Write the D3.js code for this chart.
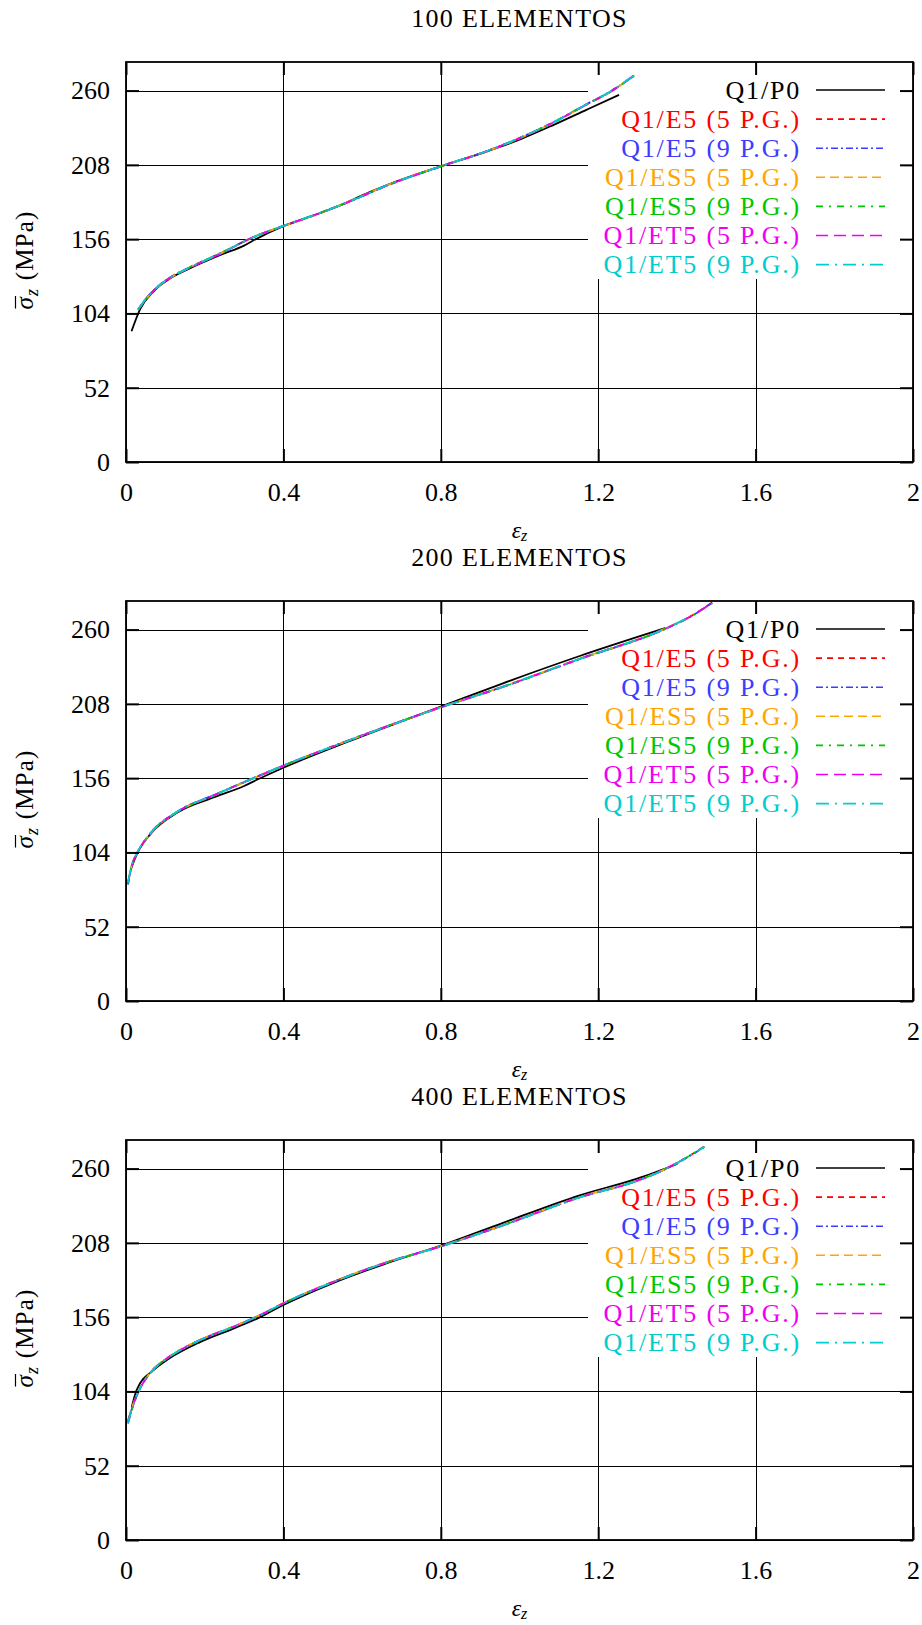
<!DOCTYPE html>
<html>
<head>
<meta charset="utf-8">
<script src="https://cdn.jsdelivr.net/npm/d3@7"></script>
<style>
    body { margin: 0; background: #fff; }
    svg text { font-family: "Liberation Serif", serif; fill: #000; }
</style>
</head>
<body>
<svg id="chart" width="922" height="1625"></svg>
<script>
"use strict";

let panelTitles = ["100 ELEMENTOS", "200 ELEMENTOS", "400 ELEMENTOS"];
let seriesNames = ["Q1/P0", "Q1/E5 (5 P.G.)", "Q1/E5 (9 P.G.)", "Q1/ES5 (5 P.G.)",
    "Q1/ES5 (9 P.G.)", "Q1/ET5 (5 P.G.)", "Q1/ET5 (9 P.G.)"];
let seriesColors = ["#000000", "#ff0000", "#3c3cff", "#ffa500", "#00c800", "#f000f0", "#00cdcd"];
let seriesDashes = [null, "6,5", "7,3,2,3", "9,5", "7,6,2,6", "12,6", "13,6,2,6"];

let xTicks = [0, 0.4, 0.8, 1.2, 1.6, 2];
let yTicks = [0, 52, 104, 156, 208, 260];

// 100 elementos
let epsP0_100 = [0.014, 0.036, 0.07, 0.112, 0.154, 0.24, 0.30, 0.33, 0.40, 0.494, 0.55, 0.60, 0.663, 0.80, 0.918, 1.003, 1.087, 1.17, 1.253];
let sigP0_100 = [91.5, 107, 119.5, 128.5, 134.5, 145, 151.5, 156, 165, 174.3, 180.3, 186.6, 193.8, 207, 217.5, 226, 236, 246.5, 257];
let epsQ1_100 = [0.031, 0.05, 0.07, 0.112, 0.154, 0.24, 0.324, 0.40, 0.494, 0.578, 0.663, 0.80, 0.918, 1.003, 1.087, 1.172, 1.23, 1.291];
let sigE5a_100 = [106.7, 114.0, 120.0, 129.0, 135.0, 146.0, 157.5, 165.2, 174.3, 183.6, 193.6, 207.0, 217.6, 227.0, 237.8, 250.5, 259.0, 270.5];
let sigE5b_100 = [106.5, 114.2, 120.2, 129.2, 135.2, 146.2, 157.3, 165.4, 174.5, 183.4, 193.5, 206.9, 217.8, 227.2, 238.0, 250.7, 259.3, 270.2];
let sigES5a_100 = [106.9, 113.8, 119.8, 128.8, 135.1, 145.9, 157.6, 165.1, 174.2, 183.7, 193.7, 207.1, 217.5, 226.9, 237.7, 250.4, 258.8, 270.6];
let sigES5b_100 = [106.6, 114.1, 120.1, 129.1, 135.3, 146.1, 157.4, 165.3, 174.4, 183.5, 193.6, 207.0, 217.7, 227.1, 237.9, 250.6, 259.1, 270.4];
let sigET5a_100 = [106.8, 113.9, 119.9, 128.9, 134.9, 145.8, 157.5, 165.2, 174.3, 183.6, 193.5, 206.9, 217.6, 227.0, 237.8, 250.5, 259.0, 270.7];
let sigET5b_100 = [106.7, 114.0, 120.1, 129.0, 135.1, 146.0, 157.4, 165.3, 174.4, 183.5, 193.6, 207.0, 217.7, 227.1, 237.9, 250.6, 259.2, 270.5];

// 200 elementos
let epsP0_200 = [0.012, 0.028, 0.0626, 0.131, 0.228, 0.30, 0.33, 0.40, 0.569, 0.80, 0.958, 1.153, 1.37];
let sigP0_200 = [92, 103, 117, 132, 143, 150.5, 154.5, 163.3, 182, 206, 222.4, 241.5, 261];
let epsQ1_200 = [0.005, 0.015, 0.028, 0.0626, 0.131, 0.228, 0.316, 0.40, 0.569, 0.80, 0.958, 1.153, 1.367, 1.43, 1.49];
let sigE5a_200 = [82.0, 95.0, 103.4, 117.4, 132.5, 144.5, 155.0, 164.7, 182.7, 205.6, 220.0, 239.5, 260.2, 268.5, 279.0];
let sigE5b_200 = [81.5, 94.8, 103.2, 117.6, 132.7, 144.7, 155.2, 164.8, 182.8, 205.5, 219.8, 239.3, 260.0, 268.3, 278.8];
let sigES5a_200 = [83.0, 95.3, 103.5, 117.3, 132.4, 144.4, 154.9, 164.6, 182.6, 205.6, 220.1, 239.6, 260.3, 268.6];
let sigES5b_200 = [82.5, 95.1, 103.3, 117.5, 132.6, 144.6, 155.1, 164.7, 182.7, 205.7, 219.9, 239.4, 260.1, 268.4, 278.5];
let sigET5a_200 = [82.2, 95.0, 103.4, 117.4, 132.5, 144.5, 155.0, 164.7, 182.7, 205.6, 220.0, 239.5, 260.2, 268.5, 278.7];
let sigET5b_200 = [82.8, 95.2, 103.6, 117.5, 132.6, 144.5, 155.1, 164.8, 182.6, 205.5, 220.1, 239.5, 260.2, 268.5];

// 400 elementos
let epsP0_400 = [0.0145, 0.027, 0.07, 0.104, 0.188, 0.273, 0.341, 0.40, 0.5275, 0.655, 0.80, 0.958, 1.153, 1.299, 1.401];
let sigP0_400 = [93, 105, 119, 126, 138.5, 148, 156, 164.5, 180, 193, 206, 222, 241.3, 253, 263.2];
let epsQ1_400 = [0.005, 0.02, 0.0356, 0.0695, 0.1036, 0.188, 0.273, 0.341, 0.40, 0.5275, 0.655, 0.80, 0.958, 1.153, 1.299, 1.367, 1.42, 1.47];
let sigE5a_400 = [82.5, 96.0, 106.0, 119.5, 127.0, 140.0, 149.3, 157.5, 165.7, 180.8, 193.7, 205.6, 220.3, 239.9, 251.5, 259.2, 267.0, 275.6];
let sigE5b_400 = [81.5, 95.5, 105.8, 119.3, 126.8, 139.8, 149.1, 157.3, 165.5, 180.7, 193.6, 205.5, 220.2, 239.8, 251.4, 259.1, 266.8, 275.2];
let sigES5a_400 = [84.0, 96.3, 106.1, 119.6, 127.1, 140.1, 149.4, 157.6, 165.8, 180.9, 193.8, 205.7, 220.4, 240.0, 251.6, 259.3, 267.1];
let sigES5b_400 = [83.0, 96.1, 105.9, 119.4, 126.9, 139.9, 149.2, 157.4, 165.6, 180.8, 193.7, 205.6, 220.3, 239.9, 251.5, 259.2, 267.0, 275.4];
let sigET5a_400 = [82.8, 96.2, 106.0, 119.5, 127.0, 140.0, 149.3, 157.5, 165.7, 180.8, 193.7, 205.6, 220.3, 239.9, 251.5, 259.2, 267.0];
let sigET5b_400 = [82.2, 96.0, 105.9, 119.4, 126.9, 139.9, 149.2, 157.4, 165.6, 180.7, 193.6, 205.5, 220.2, 239.8, 251.4, 259.1, 266.9, 275.3];

function zipPoints(xs, ys) {
    return ys.map((y, i) => [xs[i], y]);
}

let panels = [
    {
        title: panelTitles[0],
        series: [
            zipPoints(epsP0_100, sigP0_100),
            zipPoints(epsQ1_100, sigE5a_100), zipPoints(epsQ1_100, sigE5b_100),
            zipPoints(epsQ1_100, sigES5a_100), zipPoints(epsQ1_100, sigES5b_100),
            zipPoints(epsQ1_100, sigET5a_100), zipPoints(epsQ1_100, sigET5b_100)
        ]
    },
    {
        title: panelTitles[1],
        series: [
            zipPoints(epsP0_200, sigP0_200),
            zipPoints(epsQ1_200, sigE5a_200), zipPoints(epsQ1_200, sigE5b_200),
            zipPoints(epsQ1_200, sigES5a_200), zipPoints(epsQ1_200, sigES5b_200),
            zipPoints(epsQ1_200, sigET5a_200), zipPoints(epsQ1_200, sigET5b_200)
        ]
    },
    {
        title: panelTitles[2],
        series: [
            zipPoints(epsP0_400, sigP0_400),
            zipPoints(epsQ1_400, sigE5a_400), zipPoints(epsQ1_400, sigE5b_400),
            zipPoints(epsQ1_400, sigES5a_400), zipPoints(epsQ1_400, sigES5b_400),
            zipPoints(epsQ1_400, sigET5a_400), zipPoints(epsQ1_400, sigET5b_400)
        ]
    }
];

let svg = d3.select("#chart");

let plotLeft = 126,
    plotRight = 913,
    plotHeight = 400,
    panelStep = 539,
    firstTop = 62;

let x = d3.scaleLinear().domain([0, 2]).range([plotLeft, plotRight]);

// snap hairlines to the pixel grid so they stay crisp
let crisp = v => Math.round(v) + 0.5;

panels.forEach(function(panel, p) {
    drawPanel(panel, firstTop + p * panelStep);
});

function drawPanel(panel, top) {
    let bottom = top + plotHeight;
    let y = d3.scaleLinear().domain([0, 280]).range([bottom, top]);
    let g = svg.append("g");

    // grid
    g.append("g")
        .selectAll("line")
        .data(yTicks)
        .enter().append("line")
        .attr("x1", plotLeft).attr("x2", plotRight)
        .attr("y1", d => crisp(y(d))).attr("y2", d => crisp(y(d)))
        .style("stroke", "#000").style("stroke-width", 1);

    g.append("g")
        .selectAll("line")
        .data(xTicks)
        .enter().append("line")
        .attr("x1", d => crisp(x(d))).attr("x2", d => crisp(x(d)))
        .attr("y1", top).attr("y2", bottom)
        .style("stroke", "#000").style("stroke-width", 1);

    // opaque key box
    g.append("rect")
        .attr("x", 588).attr("y", top)
        .attr("width", plotRight - 588).attr("height", 217)
        .style("fill", "#fff");

    // curves
    let line = d3.line()
        .x(d => x(d[0]))
        .y(d => y(d[1]))
        .curve(d3.curveMonotoneX);

    panel.series.forEach(function(pts, i) {
        g.append("path")
            .datum(pts)
            .attr("d", line)
            .style("fill", "none")
            .style("stroke", seriesColors[i])
            .style("stroke-width", 1.8)
            .style("stroke-dasharray", seriesDashes[i]);
    });

    // key
    seriesNames.forEach(function(name, i) {
        let rowY = top + 28 + i * 29.1;

        g.append("text")
            .attr("x", 801)
            .attr("y", rowY + 8.5)
            .attr("text-anchor", "end")
            .style("font-size", "26px")
            .style("letter-spacing", "1.8px")
            .style("fill", seriesColors[i])
            .text(name);

        g.append("line")
            .attr("x1", 816).attr("x2", 885)
            .attr("y1", rowY).attr("y2", rowY)
            .style("stroke", seriesColors[i])
            .style("stroke-width", 1.6)
            .style("stroke-dasharray", seriesDashes[i]);
    });

    // border and ticks (inward, mirrored)
    g.append("rect")
        .attr("x", plotLeft).attr("y", top)
        .attr("width", plotRight - plotLeft).attr("height", plotHeight)
        .style("fill", "none").style("stroke", "#000").style("stroke-width", 1.8);

    g.append("g")
        .attr("transform", "translate(" + plotLeft + ",0)")
        .call(d3.axisLeft(y).tickValues(yTicks).tickSize(-13).tickPadding(16))
        .call(styleAxis);

    g.append("g")
        .attr("transform", "translate(" + plotRight + ",0)")
        .call(d3.axisRight(y).tickValues(yTicks).tickSize(-13).tickFormat(""))
        .call(styleAxis);

    g.append("g")
        .attr("transform", "translate(0," + bottom + ")")
        .call(d3.axisBottom(x).tickValues(xTicks).tickSize(-13).tickPadding(21).tickFormat(d3.format("")))
        .call(styleAxis);

    g.append("g")
        .attr("transform", "translate(0," + top + ")")
        .call(d3.axisTop(x).tickValues(xTicks).tickSize(-13).tickFormat(""))
        .call(styleAxis);

    // title
    g.append("text")
        .attr("x", (plotLeft + plotRight) / 2)
        .attr("y", top - 35)
        .attr("text-anchor", "middle")
        .style("font-size", "26px")
        .style("letter-spacing", "1.3px")
        .text(panel.title);

    // x label
    let xl = g.append("text")
        .attr("x", (plotLeft + plotRight) / 2)
        .attr("y", bottom + 76)
        .attr("text-anchor", "middle")
        .style("font-size", "24px");
    xl.append("tspan").style("font-style", "italic").text("\u03b5");
    xl.append("tspan").style("font-style", "italic").style("font-size", "16px")
        .attr("dy", 3).text("z");

    // y label
    let yg = g.append("g")
        .attr("transform", "translate(33," + (top + plotHeight / 2 - 2) + ") rotate(-90)");
    let yl = yg.append("text")
        .attr("x", 0).attr("y", 0)
        .attr("text-anchor", "middle")
        .style("font-size", "25px")
        .style("letter-spacing", "1.2px");
    yl.append("tspan").style("font-style", "italic").text("\u03c3");
    yl.append("tspan").style("font-style", "italic").style("font-size", "18px")
        .attr("dy", 5).text("z");
    yl.append("tspan").attr("dy", -5).text(" (MPa)");

    let box = yl.node().getExtentOfChar(0);
    yg.append("line")
        .attr("x1", box.x + 1).attr("x2", box.x + box.width)
        .attr("y1", -17.5).attr("y2", -17.5)
        .style("stroke", "#000").style("stroke-width", 1.2);
}

function styleAxis(sel) {
    sel.select(".domain").remove();
    sel.selectAll(".tick line")
        .style("stroke", "#000")
        .style("stroke-width", 2);
    sel.selectAll(".tick text")
        .style("font-family", "'Liberation Serif', serif")
        .style("font-size", "26px")
        .style("fill", "#000");
    sel.attr("font-family", null).attr("font-size", null);
}
</script>
</body>
</html>
